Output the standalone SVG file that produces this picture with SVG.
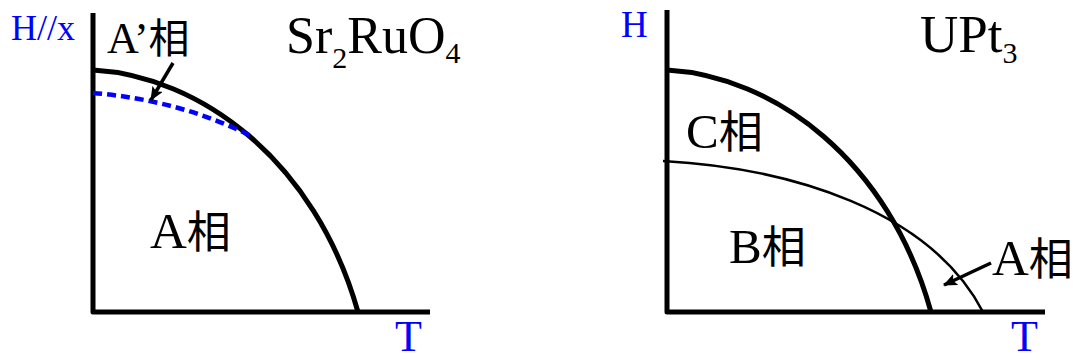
<svg xmlns="http://www.w3.org/2000/svg" width="1080" height="360" viewBox="0 0 1080 360">
<style>
.axis{fill:none;stroke:#000;stroke-width:5;stroke-linejoin:round;stroke-linecap:butt}
.thick{fill:none;stroke:#000;stroke-width:5}
.thin{fill:none;stroke:#000;stroke-width:2.5}
.dash{fill:none;stroke:#0000ff;stroke-width:4.5;stroke-dasharray:9 5}
.arr{fill:none;stroke:#000;stroke-width:3.5;marker-end:url(#ah)}
.t{font-family:"Liberation Serif","Noto Sans CJK SC",serif;fill:#000}
.b{fill:#0000ff}
.cj{font-family:"Noto Sans CJK SC","Noto Sans CJK JP",sans-serif;font-weight:400}
</style>
<defs>
<marker id="ah" viewBox="0 0 14 12" refX="13" refY="6" markerWidth="14" markerHeight="12" markerUnits="userSpaceOnUse" orient="auto">
<path d="M0,0 L14,6 L0,12 L3,6 Z" fill="#000"/>
</marker>
</defs>
<g id="left-plot">
<polyline class="axis" points="93,13 93,312 430,312"/>
<path class="thick" d="M93,70 C200,76 315,160 358,312"/>
<path class="dash" d="M93,93 Q180,100 253,137"/>
<text class="t b" x="11" y="40" font-size="36">H//x</text>
<text class="t" x="107" y="53" font-size="44">A’<tspan class="cj" font-size="41">相</tspan></text>
<text class="t" x="286" y="53" font-size="52">Sr<tspan font-size="30" dy="15">2</tspan><tspan dy="-15">RuO</tspan><tspan font-size="30" dy="10">4</tspan></text>
<text class="t" x="150" y="248" font-size="51">A<tspan class="cj" font-size="44">相</tspan></text>
<text class="t b" x="395" y="351" font-size="44">T</text>
</g>
<g id="right-plot">
<polyline class="axis" points="667,10 667,312 1045,312"/>
<path class="thick" d="M667,70 C774,76 889,160 931,312"/>
<path class="thin" d="M663,161 C790,168 930,210 983,312"/>
<text class="t b" x="621" y="37" font-size="37">H</text>
<text class="t" x="920" y="52" font-size="53">UPt<tspan font-size="30" dy="11">3</tspan></text>
<text class="t" x="686" y="148" font-size="49">C<tspan class="cj" font-size="44">相</tspan></text>
<text class="t" x="729" y="263" font-size="49">B<tspan class="cj" font-size="44">相</tspan></text>
<text class="t" x="992" y="275" font-size="51">A<tspan class="cj" font-size="44">相</tspan></text>
<text class="t b" x="1011" y="351" font-size="44">T</text>
</g>
<g id="connectors">
<line class="arr" x1="173" y1="63" x2="151" y2="100"/>
<line class="arr" x1="991" y1="263" x2="944" y2="285"/>
</g>
</svg>
